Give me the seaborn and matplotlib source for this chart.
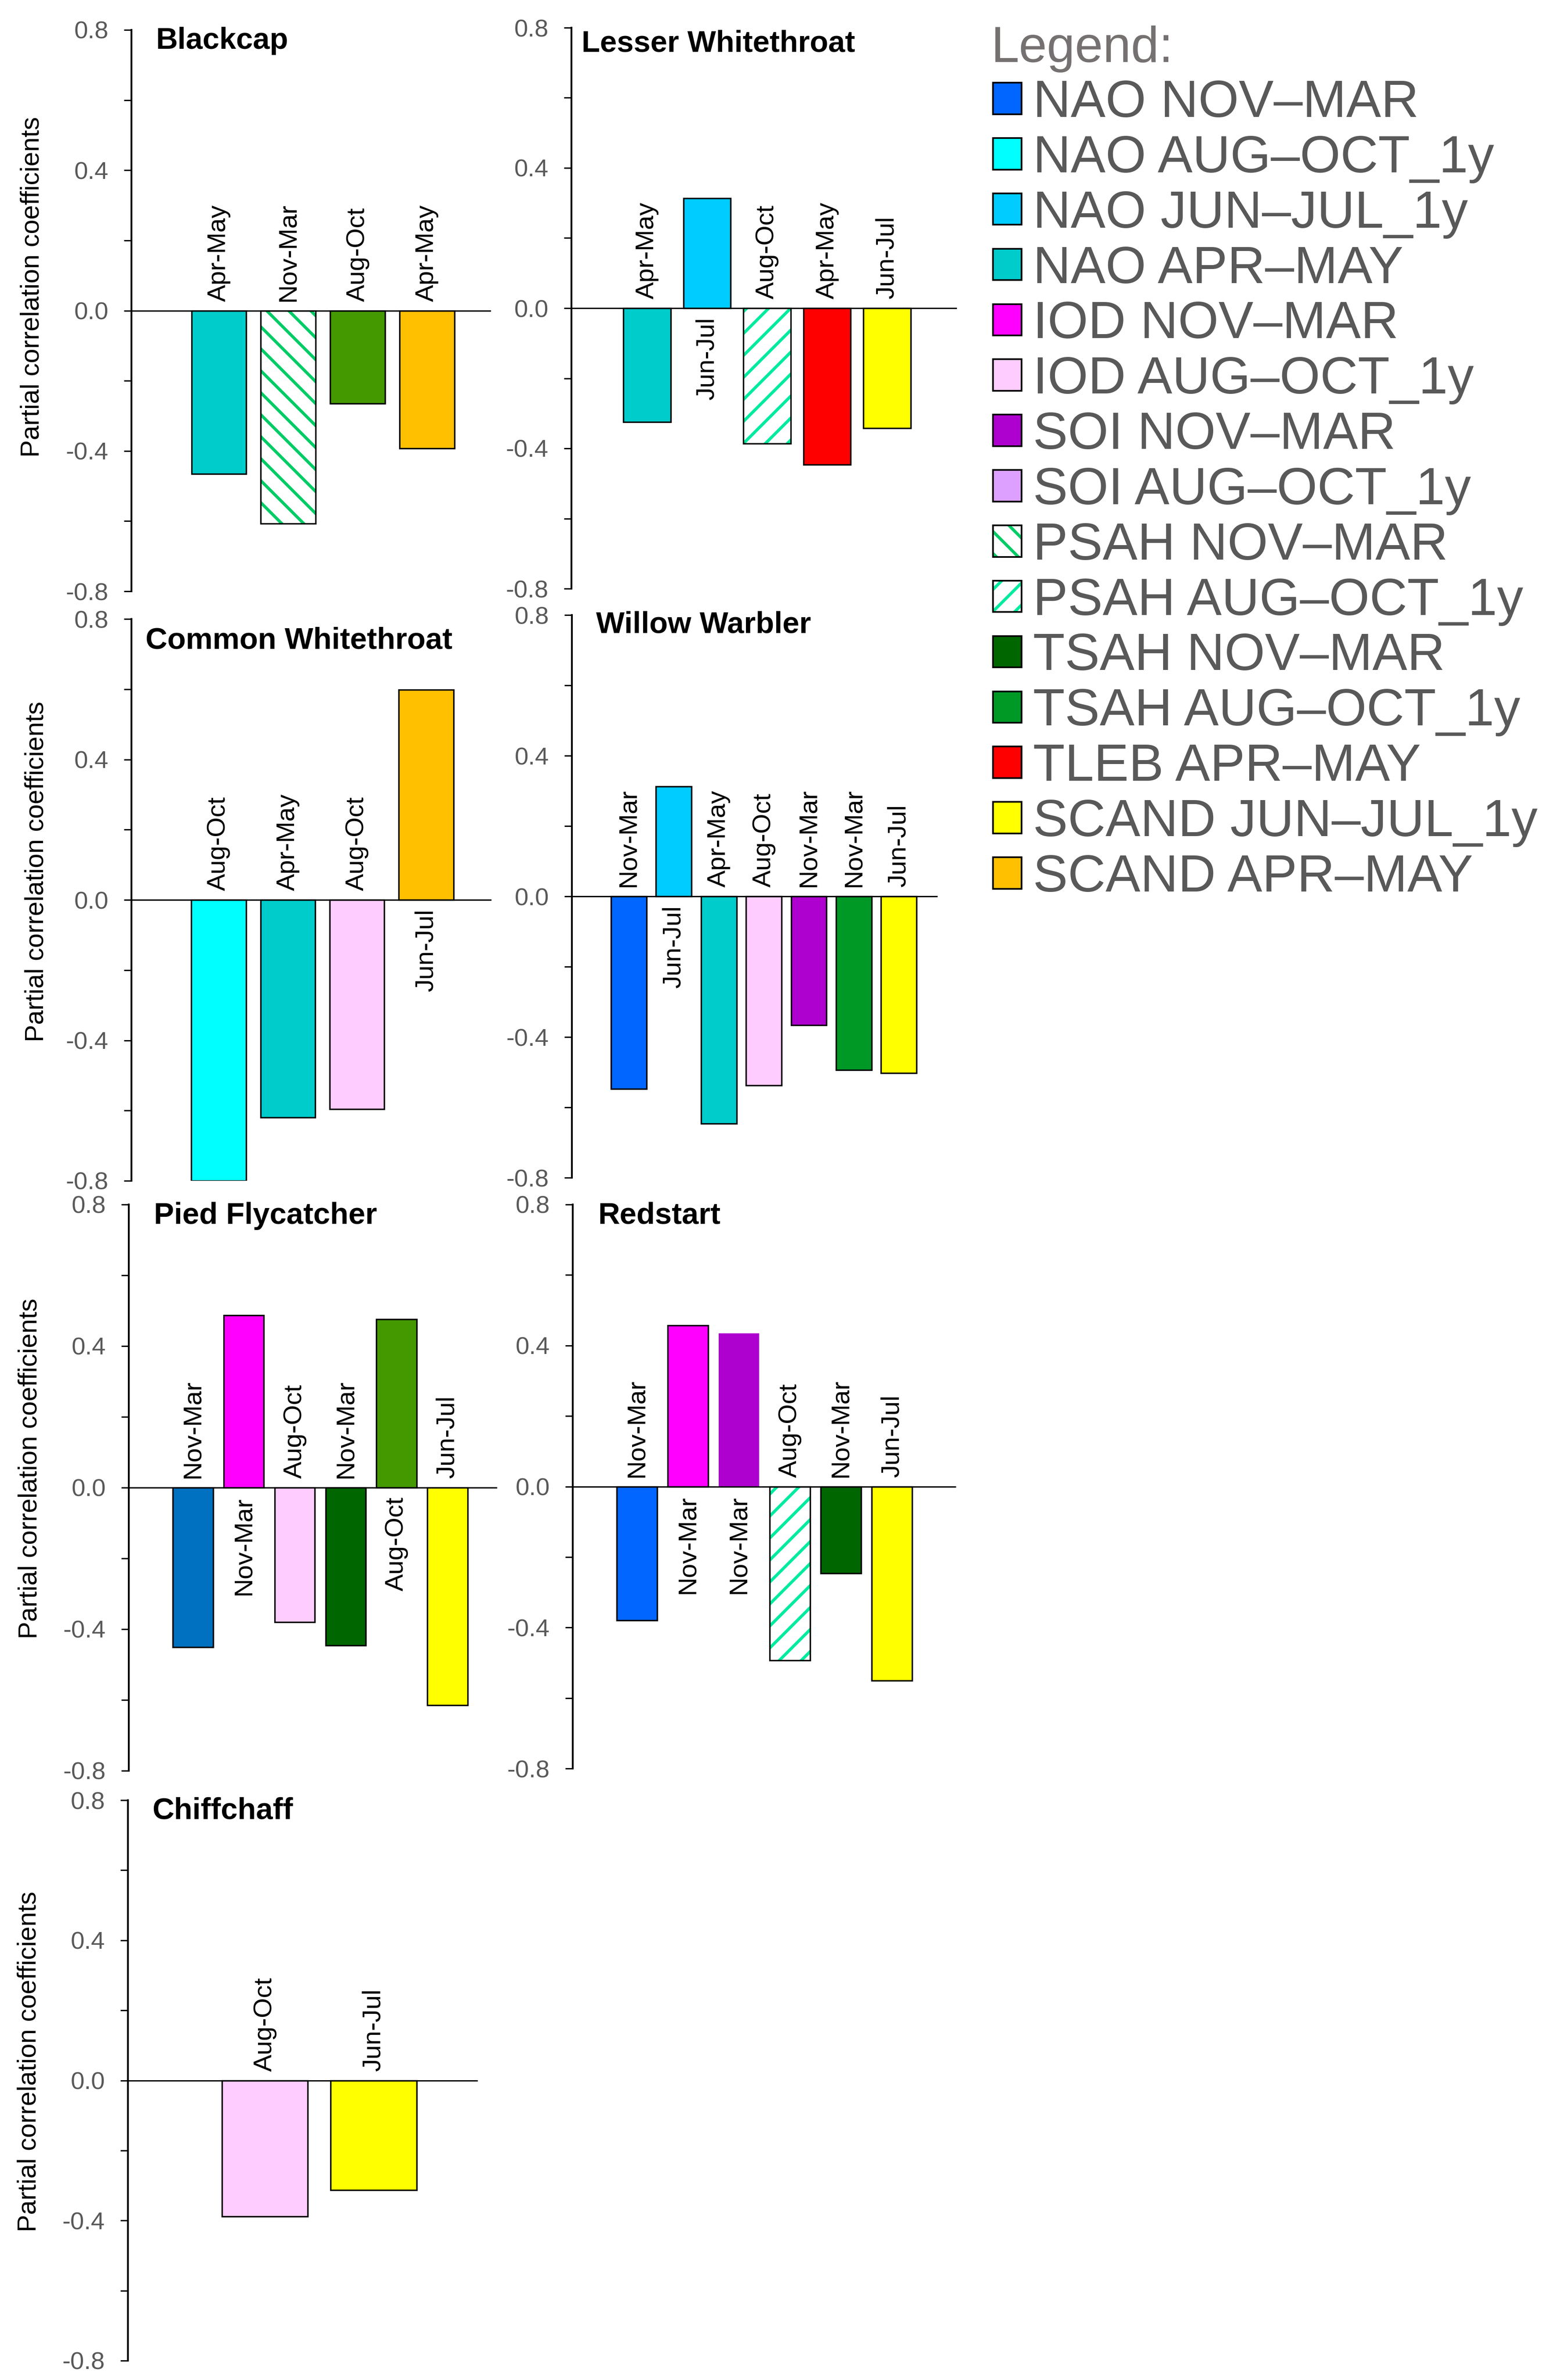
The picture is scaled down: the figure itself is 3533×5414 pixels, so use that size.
import numpy as np
import pandas as pd
import matplotlib
matplotlib.use("Agg")
import matplotlib.pyplot as plt
from matplotlib.patches import Patch, Rectangle
from matplotlib.ticker import MultipleLocator, FormatStrFormatter
import seaborn as sns

# Tamaño de la figura (px)
W, H, DPI = 3533, 5414, 150

# Datos
species = ["Blackcap", "Lesser Whitethroat", "Common Whitethroat", "Willow Warbler",
           "Pied Flycatcher", "Redstart", "Chiffchaff"]

index_names = ["NAO NOV–MAR", "NAO AUG–OCT_1y", "NAO JUN–JUL_1y", "NAO APR–MAY",
               "IOD NOV–MAR", "IOD AUG–OCT_1y", "SOI NOV–MAR", "SOI AUG–OCT_1y",
               "PSAH NOV–MAR", "PSAH AUG–OCT_1y", "TSAH NOV–MAR", "TSAH AUG–OCT_1y",
               "TLEB APR–MAY", "SCAND JUN–JUL_1y", "SCAND APR–MAY"]

bar_index = {
    "Blackcap": ["NAO APR–MAY", "PSAH NOV–MAR", "TSAH AUG–OCT_1y", "SCAND APR–MAY"],
    "Lesser Whitethroat": ["NAO APR–MAY", "NAO JUN–JUL_1y", "PSAH AUG–OCT_1y",
                           "TLEB APR–MAY", "SCAND JUN–JUL_1y"],
    "Common Whitethroat": ["NAO AUG–OCT_1y", "NAO APR–MAY", "IOD AUG–OCT_1y", "SCAND APR–MAY"],
    "Willow Warbler": ["NAO NOV–MAR", "NAO JUN–JUL_1y", "NAO APR–MAY", "IOD AUG–OCT_1y",
                       "SOI NOV–MAR", "TSAH AUG–OCT_1y", "SCAND JUN–JUL_1y"],
    "Pied Flycatcher": ["NAO NOV–MAR", "IOD NOV–MAR", "IOD AUG–OCT_1y", "TSAH NOV–MAR",
                        "TSAH AUG–OCT_1y", "SCAND JUN–JUL_1y"],
    "Redstart": ["NAO NOV–MAR", "IOD NOV–MAR", "SOI NOV–MAR", "PSAH AUG–OCT_1y",
                 "TSAH NOV–MAR", "SCAND JUN–JUL_1y"],
    "Chiffchaff": ["IOD AUG–OCT_1y", "SCAND JUN–JUL_1y"],
}

bar_period = {
    "Blackcap": ["Apr-May", "Nov-Mar", "Aug-Oct", "Apr-May"],
    "Lesser Whitethroat": ["Apr-May", "Jun-Jul", "Aug-Oct", "Apr-May", "Jun-Jul"],
    "Common Whitethroat": ["Aug-Oct", "Apr-May", "Aug-Oct", "Jun-Jul"],
    "Willow Warbler": ["Nov-Mar", "Jun-Jul", "Apr-May", "Aug-Oct", "Nov-Mar", "Nov-Mar", "Jun-Jul"],
    "Pied Flycatcher": ["Nov-Mar", "Nov-Mar", "Aug-Oct", "Nov-Mar", "Aug-Oct", "Jun-Jul"],
    "Redstart": ["Nov-Mar", "Nov-Mar", "Nov-Mar", "Aug-Oct", "Nov-Mar", "Jun-Jul"],
    "Chiffchaff": ["Aug-Oct", "Jun-Jul"],
}

bar_value = {
    "Blackcap": [-0.465, -0.607, -0.265, -0.393],
    "Lesser Whitethroat": [-0.325, 0.314, -0.386, -0.446, -0.342],
    "Common Whitethroat": [-0.80, -0.620, -0.596, 0.598],
    "Willow Warbler": [-0.548, 0.313, -0.646, -0.537, -0.366, -0.494, -0.503],
    "Pied Flycatcher": [-0.451, 0.487, -0.380, -0.446, 0.476, -0.615],
    "Redstart": [-0.380, 0.457, 0.435, -0.493, -0.246, -0.550],
    "Chiffchaff": [-0.389, -0.313],
}

# Estilos
index_colors = ["#0066FF", "#00FFFF", "#00CCFF", "#00CCCC", "#FF00FF", "#FFCCFF",
                "#AE00CE", "#DDA0FF", "#00CC66", "#00EBA0", "#006600", "#009926",
                "#FF0000", "#FFFF00", "#FFC000"]
palette = dict(zip(index_names, index_colors))
hatch_of = {"PSAH NOV–MAR": "\\", "PSAH AUG–OCT_1y": "/"}
color_fix = {("Blackcap", 2): "#449900", ("Pied Flycatcher", 0): "#0070C0",
             ("Pied Flycatcher", 4): "#449900"}
no_edge = {("Redstart", 2)}

# Área de cada gráfico en px: izquierda, arriba, derecha, abajo
boxes = {
    "Blackcap": (299, 68, 1115, 1345),
    "Lesser Whitethroat": (1300, 63, 2175, 1339),
    "Common Whitethroat": (299, 1408, 1116, 2686),
    "Willow Warbler": (1301, 1399, 2131, 2679),
    "Pied Flycatcher": (293, 2740, 1129, 4028),
    "Redstart": (1303, 2740, 2173, 4023),
    "Chiffchaff": (291, 4095, 1085, 5370),
}
right_pad = {"Blackcap": 0.91, "Lesser Whitethroat": 1.15, "Common Whitethroat": 0.93,
             "Willow Warbler": 0.84, "Pied Flycatcher": 0.96, "Redstart": 1.24,
             "Chiffchaff": 0.95}
title_pos = {"Blackcap": (354, 111), "Lesser Whitethroat": (1323, 118),
             "Common Whitethroat": (331, 1476), "Willow Warbler": (1356, 1439),
             "Pied Flycatcher": (350, 2784), "Redstart": (1360, 2784),
             "Chiffchaff": (346, 4137)}
ylabel_pos = {"Blackcap": (73, 653), "Common Whitethroat": (83, 1983),
              "Pied Flycatcher": (68, 3341), "Chiffchaff": (66, 4690)}

sns.set_theme(style="white")
plt.rcParams["font.family"] = ["Liberation Sans", "DejaVu Sans"]
plt.rcParams["axes.unicode_minus"] = False
plt.rcParams["hatch.linewidth"] = 3.3

fig = plt.figure(figsize=(W / DPI, H / DPI), dpi=DPI)

for sp in species:
    l, t, r, b = boxes[sp]
    ax = fig.add_axes([l / W, 1 - b / H, (r - l) / W, (b - t) / H])
    n = len(bar_value[sp])
    slots = [str(i) for i in range(n)]
    df = pd.DataFrame({"slot": slots, "value": bar_value[sp], "index": bar_index[sp]})
    cols = [color_fix.get((sp, i), palette[k]) for i, k in enumerate(bar_index[sp])]
    sns.barplot(data=df, x="slot", y="value", hue="slot", palette=dict(zip(slots, cols)),
                width=0.79, edgecolor="black", linewidth=1.6, legend=False, ax=ax,
                saturation=1)

    bars = list(ax.patches)
    for i, key in enumerate(bar_index[sp]):
        bar = bars[i]
        if (sp, i) in no_edge:
            bar.set_linewidth(0)
        if key in hatch_of:
            bar.set_facecolor("white")
            bar.set_edgecolor(cols[i])
            bar.set_hatch(hatch_of[key])
            bar.set_linewidth(0)
            ax.add_patch(Rectangle(bar.get_xy(), bar.get_width(), bar.get_height(),
                                   fill=False, edgecolor="black", linewidth=1.6,
                                   zorder=bar.get_zorder() + 0.1))

    # etiquetas de periodo junto a la línea cero
    for i, (per, v) in enumerate(zip(bar_period[sp], bar_value[sp])):
        ax.annotate(per, (i, 0), xytext=(0, 10 if v < 0 else -10),
                    textcoords="offset points", rotation=90, ha="center",
                    va="bottom" if v < 0 else "top", fontsize=28, color="black")

    ax.set_xlim(-1.26, n - 1 + right_pad[sp])
    ax.set_ylim(-0.8, 0.8)
    ax.yaxis.set_major_locator(MultipleLocator(0.4))
    ax.yaxis.set_minor_locator(MultipleLocator(0.2))
    ax.yaxis.set_major_formatter(FormatStrFormatter("%.1f"))
    ax.tick_params(axis="y", which="both", direction="out", left=True, length=8,
                   width=1.5, color="black", pad=17, labelsize=27, labelcolor="#595959")
    ax.tick_params(axis="x", bottom=False, labelbottom=False)
    ax.set_xlabel("")
    ax.set_ylabel("")
    ax.spines["bottom"].set_position(("data", 0))
    ax.spines["bottom"].set_linewidth(1.5)
    ax.spines["bottom"].set_color("black")
    ax.spines["left"].set_linewidth(2)
    ax.spines["left"].set_color("black")
    ax.spines["top"].set_visible(False)
    ax.spines["right"].set_visible(False)
    ax.set_facecolor("none")

    tx, ty = title_pos[sp]
    fig.text(tx / W, 1 - ty / H, sp, fontsize=33, fontweight="bold", ha="left",
             va="baseline", color="black")
    if sp in ylabel_pos:
        yx, yy = ylabel_pos[sp]
        fig.text(yx / W, 1 - yy / H, "Partial correlation coefficients", rotation=90,
                 ha="center", va="center", fontsize=28.5, color="black")

# Leyenda
handles = []
for k in index_names:
    if k in hatch_of:
        handles.append((Patch(facecolor="white", edgecolor=palette[k], hatch=hatch_of[k],
                              linewidth=0),
                        Patch(facecolor="none", edgecolor="black", linewidth=1.8)))
    else:
        handles.append(Patch(facecolor=palette[k], edgecolor="black", linewidth=1.8))

fig.text(2255 / W, 1 - 141 / H, "Legend:", fontsize=55, color="#767171",
         ha="left", va="baseline")
leg = fig.legend(handles, index_names, loc="upper left",
                 bbox_to_anchor=(2259 / W, 1 - 180 / H), frameon=False, fontsize=57,
                 handlelength=0.55, handleheight=0.55, handletextpad=0.22,
                 labelspacing=0.125, borderpad=0, borderaxespad=0, labelcolor="#595959")

fig.savefig("out.png", dpi=DPI, facecolor="white")
